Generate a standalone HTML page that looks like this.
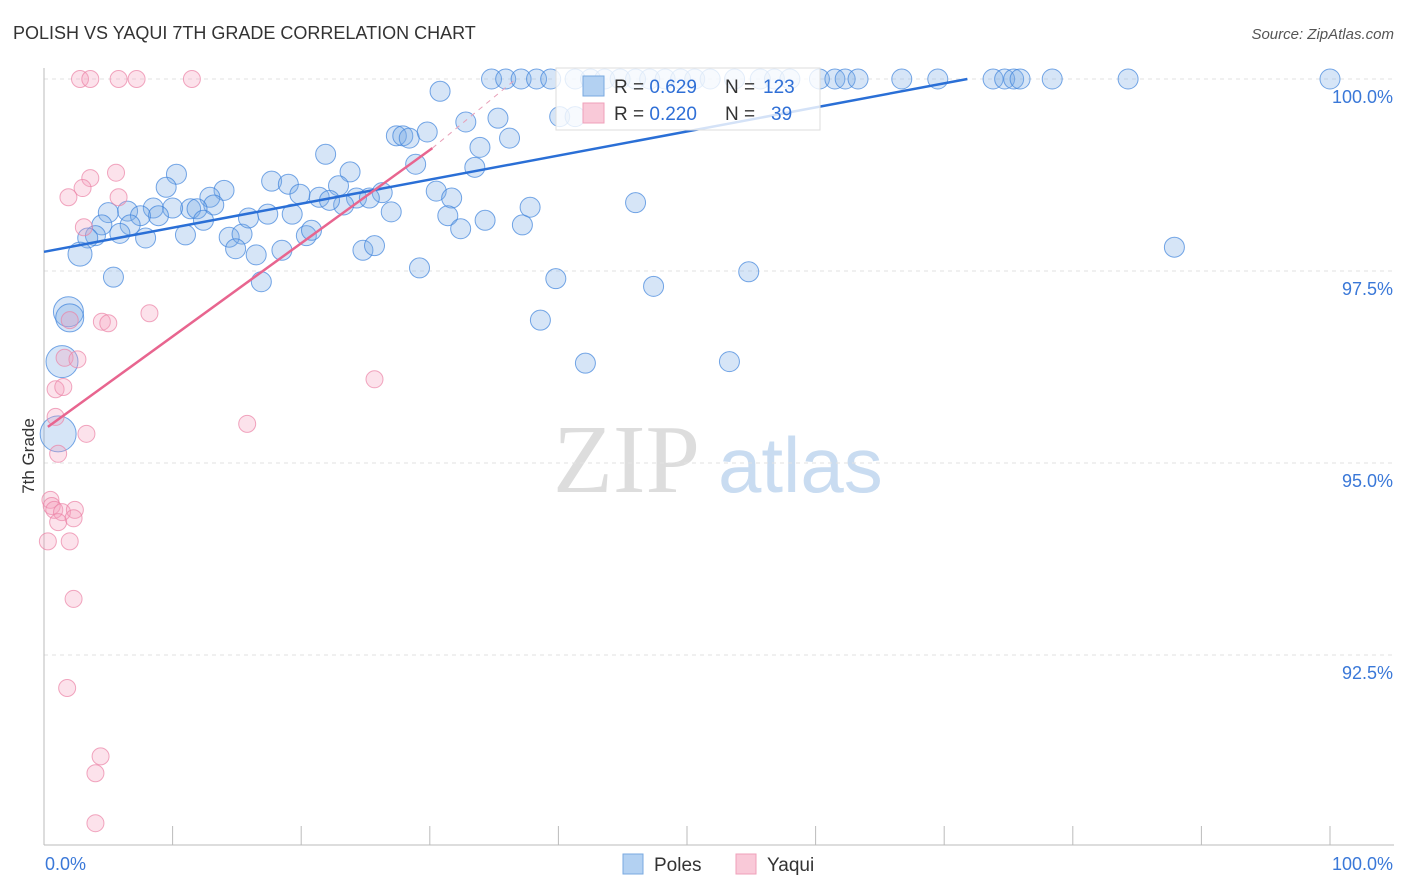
<!DOCTYPE html>
<html><head><meta charset="utf-8"><style>
body{margin:0;background:#fff;font-family:"Liberation Sans",sans-serif}
svg{display:block}
</style></head><body>
<svg id="chart" width="1406" height="892">
<text x="13" y="39" font-size="18" fill="#333">POLISH VS YAQUI 7TH GRADE CORRELATION CHART</text>
<text x="1394" y="39" font-size="15" fill="#555" font-style="italic" text-anchor="end">Source: ZipAtlas.com</text>
<text x="34" y="456" font-size="17" fill="#333" transform="rotate(-90 34 456)" text-anchor="middle">7th Grade</text>
<g><text x="553" y="492" font-size="98" font-family="Liberation Serif,serif" fill="#ddd">ZIP</text><text x="718" y="492" font-size="78" fill="#c9dcf1">atlas</text></g>
<g id="grid"></g><g id="axes"></g><g id="pts"></g><g id="lines"></g>
<g>
<rect x="556" y="68" width="264" height="62" fill="rgba(255,255,255,0.8)" stroke="#ddd"/>
<rect x="583" y="76" width="21" height="20" fill="#b3d1f2" stroke="#7aa9e0"/>
<rect x="583" y="103" width="21" height="20" fill="#f9c9d8" stroke="#efa0ba"/>
<text x="614" y="93" font-size="19" fill="#333">R = <tspan fill="#2f6fd6">0.629</tspan></text>
<text x="725" y="93" font-size="19" fill="#333">N =</text><text x="763" y="93" font-size="19" fill="#2f6fd6">123</text>
<text x="614" y="120" font-size="19" fill="#333">R = <tspan fill="#2f6fd6">0.220</tspan></text>
<text x="725" y="120" font-size="19" fill="#333">N =</text><text x="771" y="120" font-size="19" fill="#2f6fd6">39</text>
</g>
<g>
<rect x="623" y="854" width="20" height="20" fill="#b3d1f2" stroke="#7aa9e0"/>
<text x="654" y="871" font-size="19" fill="#333">Poles</text>
<rect x="736" y="854" width="20" height="20" fill="#f9c9d8" stroke="#efa0ba"/>
<text x="767" y="871" font-size="19" fill="#333">Yaqui</text>
</g>
</svg>
<script>
const yTicks=[100,97.5,95,92.5];
const yTickLabels=["100.0%","97.5%","95.0%","92.5%"];
const xTickValues=[0,10,20,30,40,50,60,70,80,90,100];
const polesX=[34.8,35.9,37.1,38.3,39.4,41.3,42.5,43.6,44.8,46.0,47.1,48.3,49.5,50.6,51.8,53.7,55.7,56.8,58.0,60.3,61.5,62.3,63.3,66.7,69.5,73.8,74.7,75.4,75.9,78.4,84.3,100,
30.8,27.4,27.9,28.4,29.8,32.8,35.3,33.9,36.2,21.9,23.8,28.9,33.5,10.3,9.5,17.7,19.0,19.9,21.4,22.9,24.3,26.3,25.3,30.5,31.7,14.0,12.9,13.2,11.4,11.9,10.0,8.5,8.9,6.5,7.5,5.0,4.5,6.7,5.9,4.0,3.4,7.9,11.0,12.4,14.4,15.4,15.9,17.4,19.3,20.4,20.8,14.9,16.5,18.5,16.9,5.4,24.8,25.7,27.0,23.3,22.2,29.2,31.4,32.4,34.3,37.2,37.8,39.8,38.6,42.1,46.0,47.4,54.8,53.3,87.9,40.1,41.3,2.8,1.9,2.0,1.4,1.1];
const polesY=[100,100,100,100,100,100,100,100,100,100,100,100,100,100,100,100,100,100,100,100,100,100,100,100,100,100,100,100,100,100,100,100,
99.84,99.26,99.26,99.23,99.31,99.44,99.49,99.11,99.23,99.02,98.79,98.89,98.85,98.76,98.59,98.67,98.63,98.50,98.46,98.61,98.45,98.52,98.45,98.54,98.45,98.55,98.46,98.36,98.31,98.31,98.32,98.32,98.22,98.28,98.22,98.26,98.10,98.10,97.99,97.96,97.93,97.93,97.97,98.16,97.94,97.98,98.19,98.24,98.24,97.96,98.03,97.79,97.71,97.77,97.36,97.42,97.77,97.83,98.27,98.36,98.42,97.54,98.22,98.05,98.16,98.10,98.33,97.40,96.86,96.30,98.39,97.30,97.49,96.32,97.81,99.51,99.51,97.72,96.97,96.89,96.32,95.38];
const polesSize=[];for(let i=0;i<polesX.length;i++)polesSize.push(1);
polesSize[polesX.length-5]=1.2;polesSize[polesX.length-4]=1.5;polesSize[polesX.length-3]=1.4;polesSize[polesX.length-2]=1.6;polesSize[polesX.length-1]=1.8;
const yaquiX=[2.8,3.6,5.8,7.2,11.5,5.6,3.6,3.0,1.9,5.8,3.1,2.0,4.5,5.0,8.2,1.6,2.6,0.9,1.5,25.7,15.8,0.9,3.3,1.1,0.5,0.6,0.8,1.4,2.4,2.3,1.1,0.3,2.0,2.3,1.8,4.4,4.0,4.0];
const yaquiY=[100,100,100,100,100,98.78,98.71,98.58,98.46,98.46,98.07,96.86,96.84,96.82,96.95,96.37,96.35,95.96,95.99,96.09,95.51,95.60,95.38,95.12,94.52,94.44,94.39,94.36,94.39,94.28,94.23,93.98,93.98,93.23,92.07,91.18,90.96,90.31];
const polesTrendX=[0,71.8];const polesTrendY=[97.75,100];
const yaquiTrendX=[0.3,30.2,36.7];const yaquiTrendY=[95.47,99.10,100];
const X=v=>44+v*12.86, Y=v=>79+(100-v)*76.8;
const NS="http://www.w3.org/2000/svg";
function mk(t,a,p){const e=document.createElementNS(NS,t);for(const k in a)e.setAttribute(k,a[k]);p.appendChild(e);return e;}
const grid=document.getElementById('grid'),axes=document.getElementById('axes'),pts=document.getElementById('pts'),lines=document.getElementById('lines');
yTicks.forEach((t,i)=>{const l=mk('line',{x1:44,x2:1394,y1:Y(t),y2:Y(t),stroke:'#e2e2e2','stroke-dasharray':'4,4'},grid);


const tx=mk('text',{x:1393,y:Y(t)+24,'font-size':18,fill:'#3a78d8','text-anchor':'end'},axes);tx.textContent=yTickLabels[i];

});
const ax=mk('line',{x1:44,x2:44,y1:68,y2:845,stroke:'#bbb'},axes);


const bx=mk('line',{x1:44,x2:1394,y1:845,y2:845,stroke:'#bbb'},axes);


xTickValues.forEach(t=>{const l=mk('line',{x1:X(t),x2:X(t),y1:826,y2:845,stroke:'#bbb'},axes);

});
const x0=mk('text',{x:45,y:870,'font-size':18,fill:'#3a78d8'},axes);x0.textContent='0.0%';


const x1=mk('text',{x:1393,y:870,'font-size':18,fill:'#3a78d8','text-anchor':'end'},axes);x1.textContent='100.0%';


polesX.forEach((x,i)=>{const c=mk('circle',{cx:X(x),cy:Y(polesY[i]),r:10*polesSize[i],fill:'rgba(120,170,230,0.3)',stroke:'rgba(60,130,220,0.7)','stroke-width':1},pts);

});
yaquiX.forEach((x,i)=>{const c=mk('circle',{cx:X(x),cy:Y(yaquiY[i]),r:8.5,fill:'rgba(245,160,190,0.3)',stroke:'rgba(235,130,165,0.7)','stroke-width':1},pts);

});
const bl=mk('line',{x1:X(polesTrendX[0]),y1:Y(polesTrendY[0]),x2:X(polesTrendX[1]),y2:Y(polesTrendY[1]),stroke:'#2a6fd6','stroke-width':2.5},lines);


const pl=mk('line',{x1:X(yaquiTrendX[0]),y1:Y(yaquiTrendY[0]),x2:X(yaquiTrendX[1]),y2:Y(yaquiTrendY[1]),stroke:'#e8658f','stroke-width':2.5},lines);


const pd=mk('line',{x1:X(yaquiTrendX[1]),y1:Y(yaquiTrendY[1]),x2:X(yaquiTrendX[2]),y2:Y(yaquiTrendY[2]),stroke:'#e8a0b8','stroke-width':1,'stroke-dasharray':'5,5'},lines);


</script>
</body></html>
